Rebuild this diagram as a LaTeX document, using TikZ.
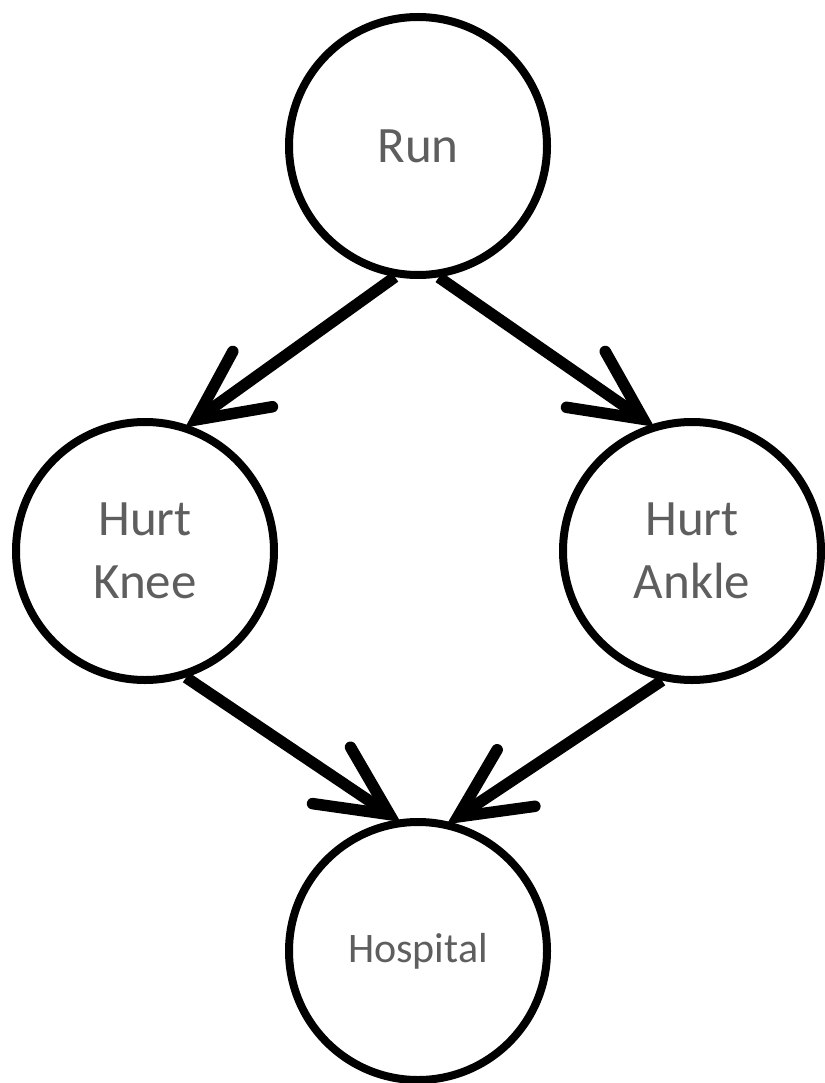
\documentclass[tikz,border=0pt]{standalone}
\usepackage{fontspec}
\setmainfont{Carlito}
\usetikzlibrary{arrows.meta}
\definecolor{labelgray}{HTML}{5E5E5E}
\tikzset{
  event/.style={circle, draw=black, line width=8pt, minimum size=258pt,
    inner sep=0pt, text=labelgray, align=center,
    font=\fontsize{51}{63}\selectfont},
  cause/.style={line width=11.5pt, draw=black,
    -{Straight Barb[length=70pt, width=68pt, line width=11.5pt,
      line cap=round, line join=miter]},
    shorten >=-4pt}
}
\begin{document}
\begin{tikzpicture}[x=1pt, y=1pt]
  \useasboundingbox (0,0) rectangle (824,-1083);
  \node[event] (run)      at (418,-146) {Run};
  \node[event] (knee)     at (145,-551) {Hurt\\Knee};
  \node[event] (ankle)    at (692,-551) {Hurt\\Ankle};
  \node[event, font=\fontsize{42}{50}\selectfont] (hospital) at (418,-951) {Hospital};

  \draw[cause] (run.260)   -- (knee.71);
  \draw[cause] (run.279)   -- (ankle.108);
  \draw[cause] (knee.288)  -- (hospital.99);
  \draw[cause] (ankle.257) -- (hospital.76);
\end{tikzpicture}
\end{document}
